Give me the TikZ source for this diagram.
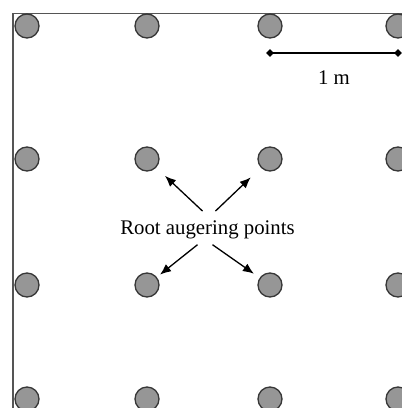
\documentclass[tikz,border=0pt]{standalone}
\usepackage{fontspec}
\setmainfont{Liberation Serif}
\usepackage{xcolor}
\definecolor{PointGray}{RGB}{150,150,150}
\definecolor{EdgeGray} {RGB}{55, 55, 55}
\usetikzlibrary{arrows.meta, positioning, shapes.geometric}

\begin{document}
\begin{tikzpicture}[
  x=1pt, y=-1pt,
  auger/.style={circle, draw=EdgeGray, fill=PointGray, line width=1.3pt,
                minimum size=24pt, inner sep=0pt},
  tick/.style={diamond, fill=black, minimum size=8pt, inner sep=0pt},
  lbl/.style={font=\fontsize{20.8}{25}\selectfont, inner sep=0pt},
  arr/.style={-{Latex[length=11pt,width=9pt]}, line width=1.3pt},
  frame/.style={draw=EdgeGray!85, line width=1.6pt}
]
  \clip (0,0) rectangle (402,408);
  \draw[frame] (13,408) |- (402,13.5);

  % auger points, 4 x 4 grid
  \foreach \x [count=\i] in {27,147,270,398}
    \foreach \y [count=\j] in {26,159,285,399}
      \node[auger] (c\j\i) at (\x,\y) {};

  % scale bar
  \node[tick] (s1) at (270,53) {};
  \node[tick] (s2) at (398,53) {};
  \draw[line width=1.3pt] (s1.center) -- (s2.center);
  \node[lbl, anchor=base] (unit) at (334,84) {1 m};

  \node[lbl, anchor=base] (tag) at (207.5,234) {Root augering points};

  \draw[arr, shorten >=12pt] ([shift={(-5pt,9pt)}]tag.north)   -- (c22);
  \draw[arr, shorten >=14pt] ([shift={(8pt,9pt)}]tag.north)    -- (c23);
  \draw[arr, shorten >=4pt]  ([shift={(-10pt,-6pt)}]tag.south) -- (c32);
  \draw[arr, shorten >=7pt]  ([shift={(5pt,-6pt)}]tag.south)   -- (c33);
\end{tikzpicture}
\end{document}
